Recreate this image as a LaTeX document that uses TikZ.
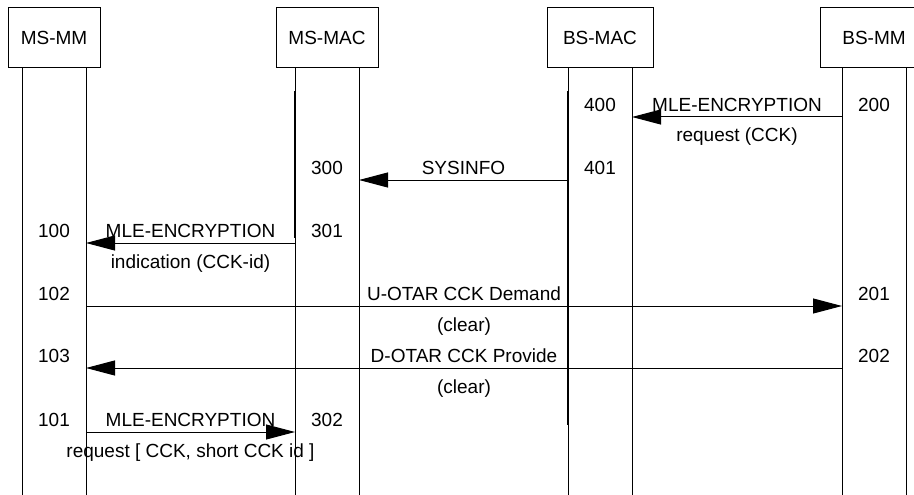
\documentclass[tikz,border=0pt]{standalone}
\usepackage{fontspec}
\setmainfont{Liberation Sans}
\usetikzlibrary{positioning,arrows.meta,calc}

\begin{document}
\begin{tikzpicture}[x=1pt, y=-1pt, font=\fontsize{19}{22}\selectfont,
    box/.style={draw, line width=1pt, fill=white, minimum height=60pt, inner sep=0pt},
    life/.style={line width=1pt},
    act/.style={line width=2.2pt},
    msg/.style={line width=1pt, -{Triangle[length=29pt, width=15pt]}},
    lbl/.style={anchor=base, inner sep=0pt}]
    \useasboundingbox (0,0) rectangle (914,495);
    \clip (0,0) rectangle (914,495);

    % entities
    \foreach \n/\x/\w/\t in {msmm/54/92/MS-MM, msmac/327/102/MS-MAC,
                             bsmac/600/106/BS-MAC, bsmm/874/108/BS-MM}
        \node[box, minimum width=\w pt] (\n) at (\x,38) {\t};

    % life lines
    \foreach \n in {msmm, msmac, bsmac, bsmm} {
        \coordinate (\n-l) at ($(\n.south)+(-32,0)$);
        \coordinate (\n-r) at ($(\n.south)+(32,0)$);
        \draw[life] (\n-l) -- (\n-l |- 0,495);
        \draw[life] (\n-r) -- (\n-r |- 0,495);
    }
    \draw[act] (msmac-l |- 0,91) -- (msmac-l |- 0,238);
    \draw[act] (bsmac-l |- 0,91) -- (bsmac-l |- 0,425);

    % messages
    \foreach \a/\b/\y/\top/\bot in {bsmm-l/bsmac-r/117/MLE-ENCRYPTION/request (CCK),
                                    bsmac-l/msmac-r/180/SYSINFO/,
                                    msmac-l/msmm-r/243/MLE-ENCRYPTION/indication (CCK-id),
                                    msmm-r/bsmm-l/306/U-OTAR CCK Demand/(clear),
                                    bsmm-l/msmm-r/368/D-OTAR CCK Provide/(clear),
                                    msmm-r/msmac-l/432/MLE-ENCRYPTION/{request [ CCK, short CCK id ]}}
        \draw[msg] (\a |- 0,\y) -- (\b |- 0,\y)
            node[lbl, midway, yshift=5.5pt] (top\y) {\top}
            node[lbl, midway, yshift=-25pt] (bot\y) {\bot};

    % numbers
    \foreach \x/\y/\t in {600/111.5/400, 874/111.5/200, 327/174.5/300, 600/174.5/401,
                          54/237.5/100, 327/237.5/301, 54/300.5/102, 874/300.5/201,
                          54/362.5/103, 874/362.5/202, 54/426.5/101, 327/426.5/302}
        \node[lbl] (num\t) at (\x,\y) {\t};
\end{tikzpicture}
\end{document}
